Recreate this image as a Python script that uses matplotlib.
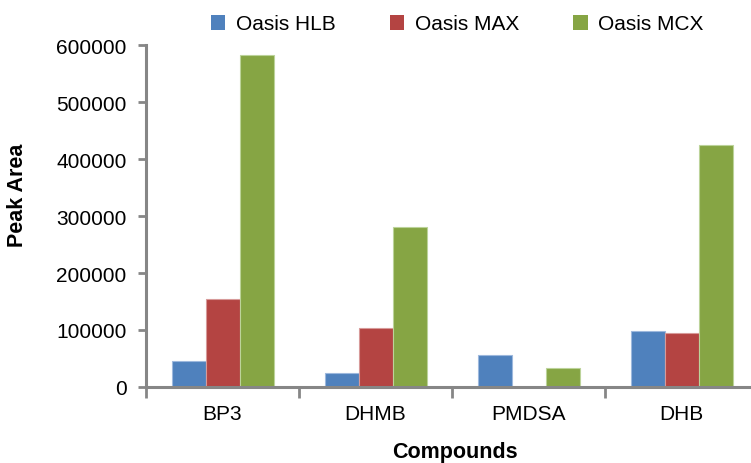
import numpy as np
import matplotlib.pyplot as plt
from matplotlib.patches import Patch

compounds = ['BP3', 'DHMB', 'PMDSA', 'DHB']
series = ['Oasis HLB', 'Oasis MAX', 'Oasis MCX']
hlb = [45500, 24500, 56000, 98000]
max_vals = [154000, 103500, 0, 95000]
mcx = [582000, 281000, 33000, 425000]
yticks = [0, 100000, 200000, 300000, 400000, 500000, 600000]

colors = ['#4F81BD', '#B44442', '#86A544']
edges = ['#9DB8DD', '#D79A99', '#BCD39A']

plt.rcParams['font.family'] = ['Liberation Sans', 'DejaVu Sans']

fig = plt.figure(figsize=(7.51, 4.64), dpi=100)
ax = fig.add_axes([146 / 751, 76 / 464, 612 / 751, 342 / 464])

x = np.arange(len(compounds))
w = 2 / 9
for i, vals in enumerate([hlb, max_vals, mcx]):
    ax.bar(x + (i - 1) * w, vals, width=w, color=colors[i],
           edgecolor=edges[i], linewidth=0.8, zorder=2)

ax.set_xlim(-0.5, 3.5)
ax.set_ylim(0, 600000)
ax.set_yticks(yticks)
ax.set_yticklabels([str(v) for v in yticks], fontsize=15)
ax.set_xticks(x)
ax.set_xticklabels(compounds, fontsize=15)
ax.set_xticks(np.arange(-0.5, 3.6, 1), minor=True)
ax.tick_params(axis='x', which='major', length=0, pad=12)
ax.tick_params(axis='x', which='minor', length=8, width=2, color='#868686')
ax.tick_params(axis='y', length=6, width=2, color='#868686', pad=8)

for s in ['top', 'right']:
    ax.spines[s].set_visible(False)
for s in ['left', 'bottom']:
    ax.spines[s].set_color('#868686')
    ax.spines[s].set_linewidth(2.2)

fig.text(18 / 751, 1 - 195 / 464, 'Peak Area', rotation=90, fontsize=15.5,
         fontweight='bold', ha='center', va='center')
fig.text(455 / 751, 1 - 453 / 464, 'Compounds', fontsize=15.5,
         fontweight='bold', ha='center', va='center')

handles = [Patch(facecolor=c, edgecolor='none') for c in colors]
fig.legend(handles, series, loc='center', bbox_to_anchor=(457 / 751, 1 - 25 / 464),
           ncol=3, frameon=False, fontsize=15, handlelength=0.7, handleheight=0.7,
           handletextpad=0.5, columnspacing=2.6)

fig.savefig('out.png', dpi=100)
